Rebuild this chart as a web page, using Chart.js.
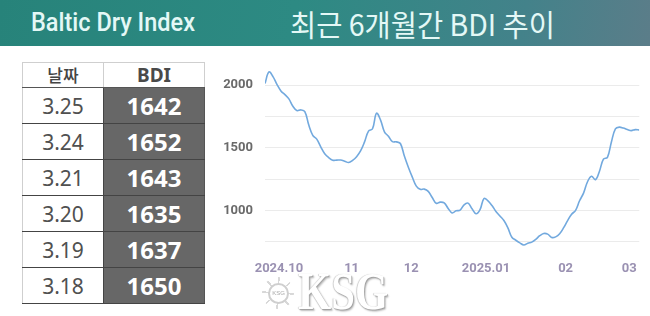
<!DOCTYPE html>
<html><head><meta charset="utf-8">
<script src="https://cdn.jsdelivr.net/npm/chart.js@4"></script>
<style>
html,body{margin:0;padding:0;width:650px;height:316px;overflow:hidden;background:#fff;}
#header{position:absolute;left:0;top:0;width:650px;height:46px;background:linear-gradient(100deg,#27837a 0%,#2d8a83 45%,#43828a 80%,#5b7d89 100%);}
#t1{position:absolute;left:31px;top:0;height:46px;line-height:46px;font-family:"Roboto",sans-serif;font-weight:500;font-size:25px;color:#e4f8f6;white-space:nowrap;transform-origin:left center;}
#t2{position:absolute;left:290px;top:0;height:46px;line-height:46px;font-family:"Noto Sans CJK KR",sans-serif;font-weight:400;font-size:30px;color:#e4f8f6;white-space:nowrap;transform-origin:left center;}
#tbl{position:absolute;left:22px;top:62px;border-collapse:collapse;table-layout:fixed;}
#tbl td,#tbl th{padding:0;text-align:center;vertical-align:middle;}
#tbl th{height:24px;font-family:"Noto Sans CJK KR","Noto Sans",sans-serif;font-weight:500;font-size:17px;color:#444;border:1px solid #cfcfcf;border-bottom:1px solid #555;line-height:24px;}
#tbl th.b{font-family:"Noto Sans",sans-serif;font-weight:bold;font-size:19px;color:#4a4a4a;}
#tbl td{height:35px;border-bottom:1px solid #444;}
#tbl td.d{width:80px;background:#fff;color:#505050;font-family:"Noto Sans",sans-serif;font-size:21px;border-left:1px solid #cfcfcf;border-right:1px solid #444;}
#tbl td.v{width:100px;background:#676767;color:#fff;font-family:"Noto Sans",sans-serif;font-weight:bold;font-size:24px;border-right:1px solid #555;}
#wrap{position:absolute;left:215px;top:46px;width:435px;height:244px;}
#wheel{position:absolute;left:262px;top:277px;width:32px;height:32px;border-radius:50%;background:repeating-conic-gradient(#d8d8d8 0deg 7deg, rgba(255,255,255,0) 7deg 45deg);}
#logo{position:absolute;left:268px;top:283px;width:17px;height:17px;border:2px solid #cfcfcf;border-radius:50%;background:#fff;font-family:"Liberation Sans",sans-serif;font-size:6px;line-height:17px;text-align:center;color:#aaa;}
#ksg{position:absolute;left:298px;top:266px;font-family:"Liberation Serif",serif;font-weight:bold;font-size:52px;line-height:52px;color:#fff;text-shadow:1px 1px 1px #a0a0a0,2px 2px 2px #c0c0c0,-1px 0 1px #cfcfcf;transform:scaleX(0.82);transform-origin:left top;}
</style></head>
<body>
<div id="header"><div id="t1">Baltic Dry Index</div><div id="t2">최근 6개월간 BDI 추이</div></div>
<table id="tbl"><thead><tr><th>날짜</th><th class="b">BDI</th></tr></thead><tbody id="tb"></tbody></table>
<div id="wrap"><canvas id="c" width="435" height="244"></canvas></div>
<div id="wheel"></div>
<div id="logo">KSG</div>
<div id="ksg">KSG</div>
<script>
const tableDates = ['3.25','3.24','3.21','3.20','3.19','3.18'];
const tableValues = [1642,1652,1643,1635,1637,1650];

const bdiValues = [
2013,2105,2068,2006,1954,1924,1890,1831,1797,1802,
1789,1681,1599,1569,1507,1452,1421,1401,1401,1402,
1393,1382,1399,1429,1475,1547,1633,1652,1775,1723,
1627,1592,1549,1547,1534,1434,1345,1266,1194,1168,
1170,1152,1103,1057,1066,1060,1016,980,997,1002,
1045,1058,1013,973,1006,1095,1076,1039,992,956,
919,861,786,762,741,724,738,747,768,798,
816,811,784,789,814,862,919,969,1001,1077,
1138,1229,1273,1245,1313,1410,1424,1546,1651,1665,
1657,1645,1637,1645,1642
];
const monthLabels = ['2024.10','11','12','2025.01','02','03'];
const monthPositions = [3.5,21.75,36.75,55.5,75.5,91.5];
const yGridValues = [750,1000,1250,1500,1750,2000];
const yLabelValues = [1000,1500,2000];

function fitWidth(id, w){
  const el = document.getElementById(id);
  const r = el.getBoundingClientRect().width;
  el.style.transform = 'scaleX(' + (w / r) + ')';
}
fitWidth('t1', 164);
fitWidth('t2', 265);

const tb = document.getElementById('tb');
tableDates.forEach((d,i)=>{
  const tr = document.createElement('tr');
  tr.innerHTML = '<td class="d">'+d+'</td><td class="v">'+tableValues[i]+'</td>';
  tb.appendChild(tr);
});

new Chart(document.getElementById('c'), {
  type: 'line',
  data: {
    datasets: [{
      data: bdiValues.map((v,i)=>({x:i,y:v})),
      borderColor: '#72a9de',
      borderWidth: 1.6,
      pointRadius: 0,
      tension: 0.4,
      fill: false
    }]
  },
  options: {
    responsive: false,
    animation: false,
    layout: {padding: {top: 0, right: 8, bottom: 0, left: 0}},
    plugins: {legend: {display: false}, tooltip: {enabled: false}},
    scales: {
      x: {
        type: 'linear',
        min: 0, max: bdiValues.length - 1,
        afterBuildTicks: s => { s.ticks = monthPositions.map(v=>({value:v})); },
        afterFit: s => { s.height = 42; },
        grid: {display: false, drawTicks: false},
        border: {display: false},
        ticks: {
          autoSkip: false, maxRotation: 0, padding: 13,
          color: '#9a91b2',
          font: {family: 'Roboto', size: 13, weight: 'bold'},
          callback: (v, i) => monthLabels[i]
        }
      },
      y: {
        min: 700, max: 2250,
        afterBuildTicks: s => { s.ticks = yGridValues.map(v=>({value:v})); },
        afterFit: s => { s.width = 50; },
        grid: {color: '#ebebeb', lineWidth: 1, drawTicks: true, tickLength: 12, tickColor: 'rgba(0,0,0,0)'},
        border: {display: false},
        ticks: {
          padding: 0,
          color: '#6a6a6a',
          font: {family: 'Roboto', size: 13, weight: 'bold'},
          callback: v => yLabelValues.includes(v) ? String(v) : ''
        }
      }
    }
  }
});
</script>
</body></html>
